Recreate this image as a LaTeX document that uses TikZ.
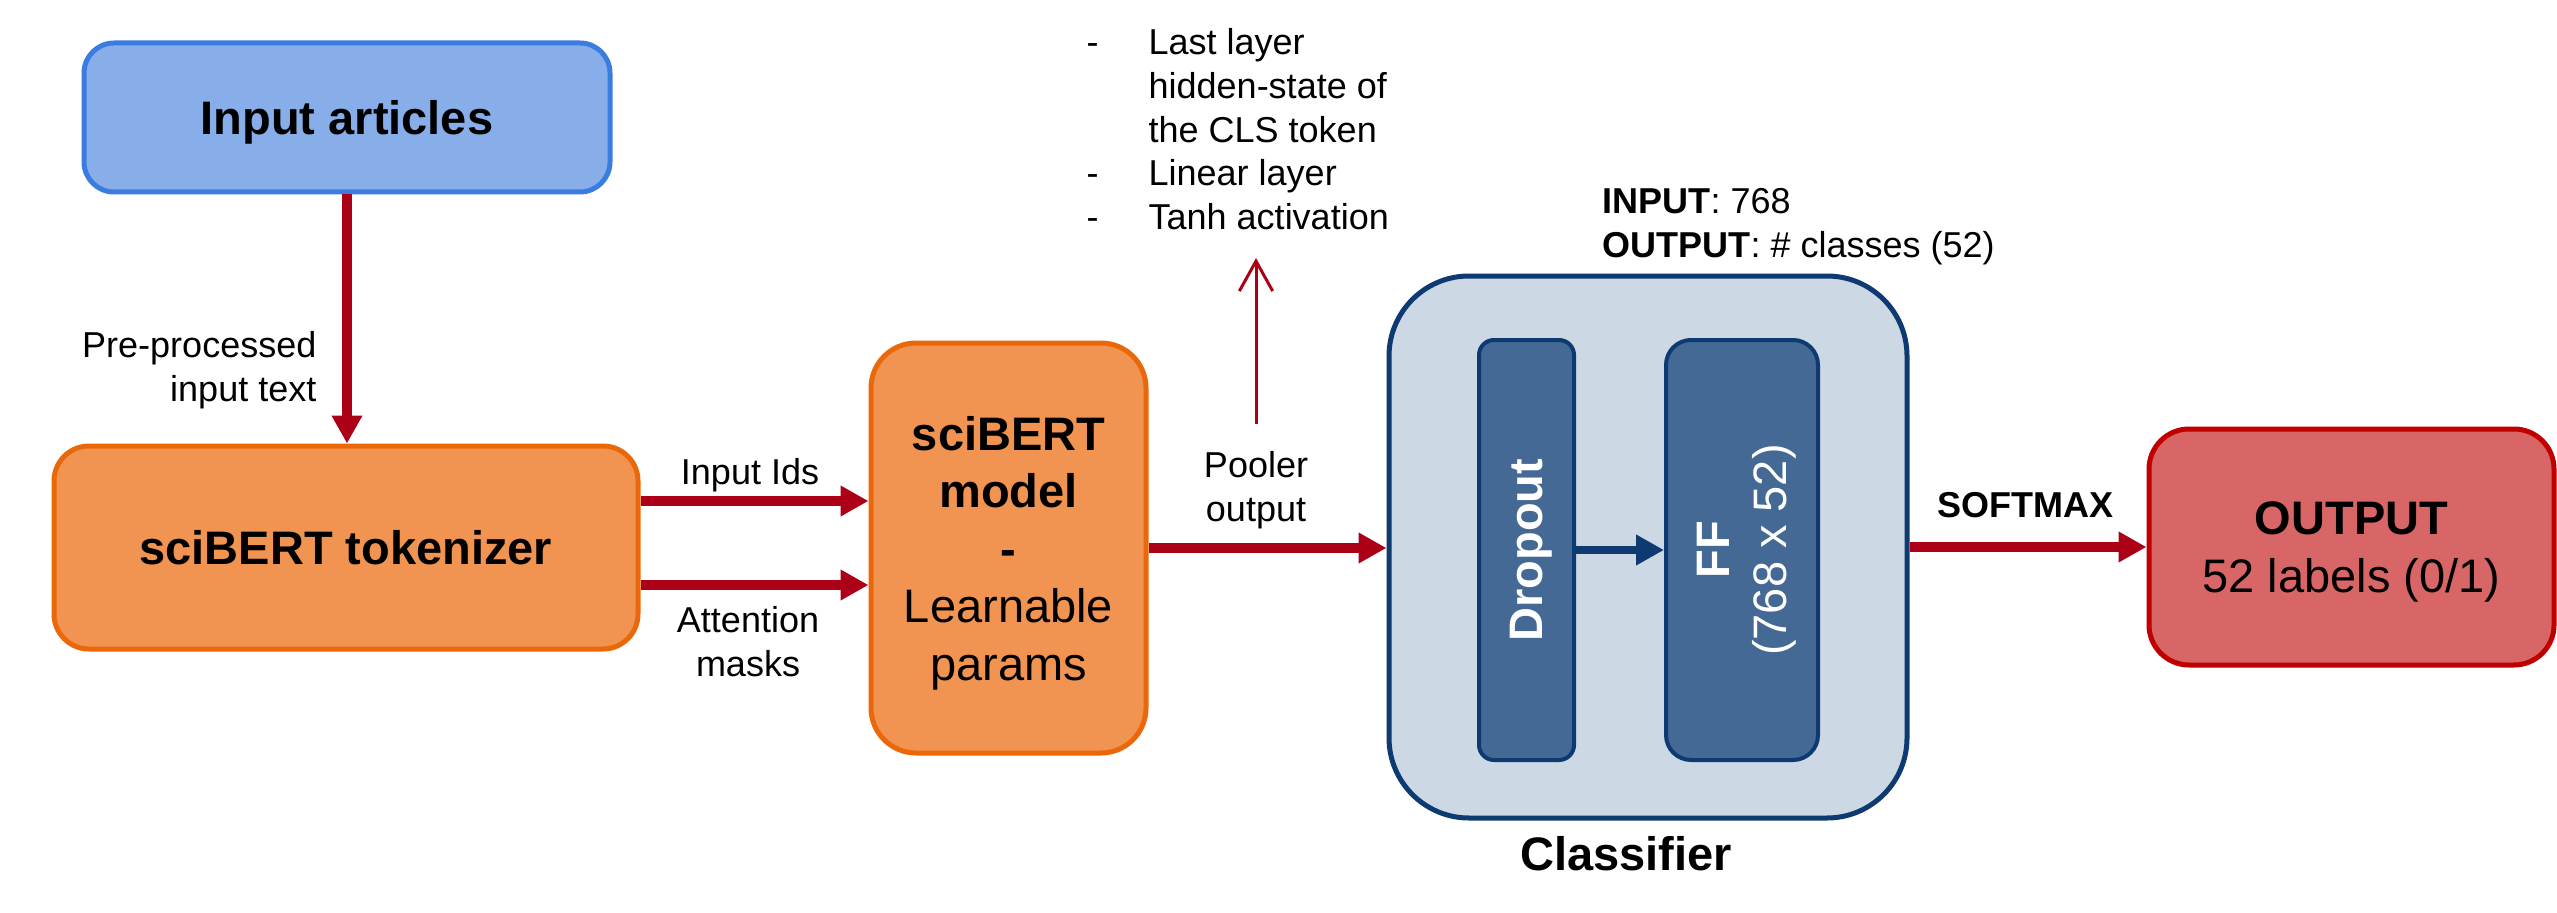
\documentclass[tikz,border=0pt]{standalone}
\usepackage{fontspec}
\setmainfont{Liberation Sans}
\usetikzlibrary{arrows.meta}

\definecolor{articlefill}{RGB}{136,174,233}
\definecolor{articledraw}{RGB}{58,124,224}
\definecolor{bertfill}{RGB}{241,148,82}
\definecolor{bertdraw}{RGB}{235,104,10}
\definecolor{clsfill}{RGB}{205,216,229}
\definecolor{clsdraw}{RGB}{12,58,113}
\definecolor{layerfill}{RGB}{68,105,148}
\definecolor{outfill}{RGB}{217,102,102}
\definecolor{outdraw}{RGB}{192,0,0}
\definecolor{flowred}{RGB}{172,0,22}

\tikzset{
  bigtext/.style={font=\fontsize{14.1pt}{17.25pt}\selectfont},
  smalltext/.style={font=\fontsize{10.8pt}{13.1pt}\selectfont},
  blockbox/.style={draw, line width=1.5pt, inner sep=0pt, text depth=0pt, align=center, bigtext},
  layerbox/.style={draw=clsdraw, fill=layerfill, line width=1.2pt, inner sep=0pt, text depth=0pt, align=center, bigtext, text=white, rotate=90},
  flow/.style={draw=flowred, line width=3pt, -{Triangle[length=8.4pt,width=8.7pt]}},
  thinflow/.style={draw=flowred, line width=0.9pt, -{Straight Barb[length=9pt,width=10pt]}},
  innerflow/.style={draw=clsdraw, line width=2.4pt, -{Triangle[length=8.4pt,width=8.7pt]}},
  lbl/.style={smalltext, inner sep=0pt},
}

\begin{document}
\begin{tikzpicture}[x=0.3pt,y=0.3pt,yscale=-1,xscale=1]
\useasboundingbox (0,0) rectangle (2557,912);

%Shape: Rounded Rect [id:articles]
\node [blockbox, draw=articledraw, fill=articlefill, rounded corners=9pt, minimum width=157.8pt, minimum height=44.7pt] (articles) at (347,117.5) {\textbf{Input articles}};
%Shape: Rounded Rect [id:tok]
\node [blockbox, draw=bertdraw, fill=bertfill, rounded corners=10.5pt, minimum width=175.2pt, minimum height=60.9pt] (tok) at (346,547.5) {\textbf{sciBERT tokenizer}};
%Shape: Rounded Rect [id:model]
\node [blockbox, draw=bertdraw, fill=bertfill, rounded corners=13.5pt, minimum width=82.5pt, minimum height=123pt] (model) at (1008.5,548) {\textbf{sciBERT}\\\textbf{model}\\\textbf{-}\\Learnable\\params};
%Shape: Rounded Rect [id:cls]
\node [blockbox, draw=clsdraw, fill=clsfill, rounded corners=24pt, minimum width=155.4pt, minimum height=162.6pt] (cls) at (1648,547) {};
%Shape: Rounded Rect [id:drop]
\node [layerbox, rounded corners=4.5pt, minimum width=126pt, minimum height=28.5pt] (drop) at (1526.5,550) {\textbf{Dropout}};
%Shape: Rounded Rect [id:ff]
\node [layerbox, rounded corners=7.5pt, minimum width=126pt, minimum height=45.6pt] (ff) at (1742,550) {\textbf{FF}\\(768 x 52)};
%Shape: Rounded Rect [id:out]
\node [blockbox, draw=outdraw, fill=outfill, rounded corners=12pt, minimum width=121.5pt, minimum height=70.8pt] (out) at (2351.5,547) {\textbf{OUTPUT}\\52 labels (0/1)};

\coordinate (idsrow) at (0,501);
\coordinate (maskrow) at (0,585);
\coordinate (poolhead) at (1256,424);
\coordinate (tanhfoot) at (1256,258);

%Straight Lines [id:flows]
\draw [flow] (articles.south) -- (articles.south |- tok.north) ;
\draw [flow] (tok.east |- idsrow) -- (model.west |- idsrow) ;
\draw [flow] (tok.east |- maskrow) -- (model.west |- maskrow) ;
\draw [flow] (model.east) -- (model.east -| cls.west) ;
\draw [flow] (cls.east) -- (cls.east -| out.west) ;
\draw [innerflow] (drop.south) -- (drop.south -| ff.north) ;
\draw [thinflow] (poolhead) -- (tanhfoot) ;

% Text Node
\node [lbl, anchor=north east, align=right] (prelbl) at (317,331) {Pre-processed\\input text};
% Text Node
\node [lbl, anchor=base] (idslbl) at (750,484) {Input Ids};
% Text Node
\node [lbl, anchor=north, align=center] (masklbl) at (748,606) {Attention\\masks};
% Text Node
\node [lbl, anchor=north, align=center] (poollbl) at (1256,451) {Pooler\\output};
% Text Node
\node [lbl, anchor=base] (softlbl) at (2025,517) {\textbf{SOFTMAX}};
% Text Node
\node [lbl, anchor=north west, align=left] (iolbl) at (1602,188) {\textbf{INPUT}: 768\\\textbf{OUTPUT}: \# classes (52)};
% Text Node
\node [lbl, anchor=north west, align=left] (poolsteps) at (1086,28) {\makebox[18.6pt][l]{-}Last layer\\\hspace*{18.6pt}hidden-state of\\\hspace*{18.6pt}the CLS token\\\makebox[18.6pt][l]{-}Linear layer\\\makebox[18.6pt][l]{-}Tanh activation};
% Text Node
\node [bigtext, inner sep=0pt, anchor=base] (clslbl) at (1626,870) {\textbf{Classifier}};

\end{tikzpicture}
\end{document}
